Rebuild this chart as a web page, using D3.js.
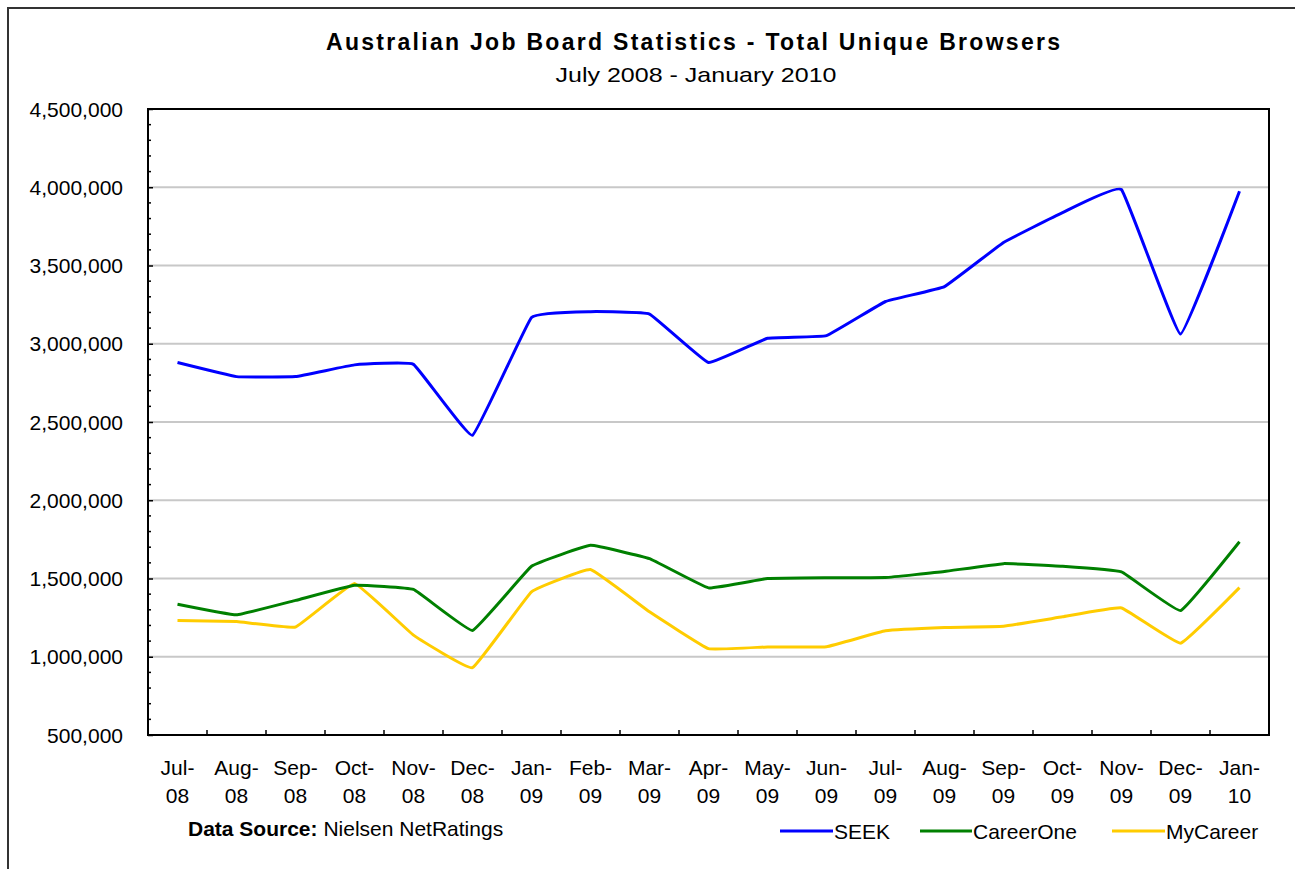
<!DOCTYPE html>
<html>
<head>
<meta charset="utf-8">
<script src="https://cdn.jsdelivr.net/npm/d3@7"></script>
<style>
  html, body { margin: 0; padding: 0; background: #fff; }
  svg { display: block; font-family: "Liberation Sans", Arial, sans-serif; }
</style>
</head>
<body>
<svg id="chart" width="1295" height="869"></svg>
<script>
const categories = ["Jul-08","Aug-08","Sep-08","Oct-08","Nov-08","Dec-08","Jan-09","Feb-09","Mar-09","Apr-09","May-09","Jun-09","Jul-09","Aug-09","Sep-09","Oct-09","Nov-09","Dec-09","Jan-10"];
const seek      = [2880000,2790000,2790000,2865000,2868000,2415000,3168000,3205000,3190000,2880000,3035000,3052000,3270000,3365000,3647000,3838000,3985000,3062000,3975000];
const careerOne = [1336000,1268000,1360000,1457000,1430000,1168000,1578000,1712000,1627000,1440000,1500000,1505000,1506000,1545000,1595000,1578000,1542000,1295000,1735000];
const myCareer  = [1232000,1225000,1190000,1468000,1138000,930000,1415000,1557000,1287000,1052000,1063000,1064000,1166000,1187000,1195000,1255000,1312000,1087000,1442000];
const seriesNames = ["SEEK","CareerOne","MyCareer"];
const yTicks = [500000,1000000,1500000,2000000,2500000,3000000,3500000,4000000,4500000];
const titleText = "Australian Job Board Statistics - Total Unique Browsers";
const subtitleText = "July 2008 - January 2010";

const colors = {SEEK: "#0000ff", CareerOne: "#008000", MyCareer: "#ffcc00"};
const series = [
  {name: "SEEK", values: seek},
  {name: "CareerOne", values: careerOne},
  {name: "MyCareer", values: myCareer}
];

const svg = d3.select("#chart");
const L = 148, R = 1269, T = 109, B = 735;

// outer frame
svg.append("rect").attr("x", 8).attr("y", 8).attr("width", 1300).attr("height", 900)
  .attr("fill", "#fff").attr("stroke", "#333").attr("stroke-width", 2);

// titles
svg.append("text").attr("x", 693).attr("y", 50).attr("text-anchor", "middle")
  .attr("font-size", 23).attr("font-weight", "bold").attr("fill", "#000")
  .attr("textLength", 734).attr("lengthAdjust", "spacing").text(titleText);
svg.append("text").attr("x", 696).attr("y", 82).attr("text-anchor", "middle")
  .attr("font-size", 21).attr("fill", "#000")
  .attr("textLength", 281).attr("lengthAdjust", "spacingAndGlyphs").text(subtitleText);

const x = d3.scaleBand().domain(categories).range([L, R]);
const y = d3.scaleLinear().domain([500000, 4500000]).range([B, T]);
const xc = c => x(c) + x.bandwidth() / 2;

// gridlines
svg.append("g").selectAll("line").data(yTicks.slice(1, -1)).join("line")
  .attr("x1", L).attr("x2", R).attr("y1", d => y(d)).attr("y2", d => y(d))
  .attr("stroke", "#c8c8c8").attr("stroke-width", 2);

// minor ticks (every 100,000), inside
const minor = d3.range(600000, 4500000, 100000).filter(v => v % 500000 !== 0);
svg.append("g").selectAll("line").data(minor).join("line")
  .attr("x1", L).attr("x2", L + 3).attr("y1", d => y(d)).attr("y2", d => y(d))
  .attr("stroke", "#000").attr("stroke-width", 1.5);

// y axis
const yAxis = d3.axisLeft(y).tickValues(yTicks).tickSize(-5).tickPadding(25)
  .tickFormat(d3.format(","));
const gy = svg.append("g").attr("transform", `translate(${L},0)`).call(yAxis);
gy.select(".domain").remove();
gy.selectAll(".tick line").attr("stroke", "#000").attr("stroke-width", 1.5);
gy.selectAll(".tick text").attr("font-size", 21).attr("fill", "#000")
  .attr("font-family", "'Liberation Sans', Arial, sans-serif").attr("dy", "0.34em");

// x ticks at category boundaries (inside)
svg.append("g").selectAll("line").data(categories.slice(1)).join("line")
  .attr("x1", d => x(d)).attr("x2", d => x(d)).attr("y1", B).attr("y2", B - 5)
  .attr("stroke", "#000").attr("stroke-width", 1.5);

// x labels
const xl = svg.append("g").selectAll("text").data(categories).join("text")
  .attr("text-anchor", "middle").attr("font-size", 21).attr("fill", "#000");
xl.append("tspan").attr("x", d => xc(d)).attr("y", 775).text(d => d.split("-")[0] + "-");
xl.append("tspan").attr("x", d => xc(d)).attr("y", 803).text(d => d.split("-")[1]);

// plot border
svg.append("rect").attr("x", L).attr("y", T).attr("width", R - L).attr("height", B - T)
  .attr("fill", "none").attr("stroke", "#000").attr("stroke-width", 2);

// lines
const line = d3.line().x((d, i) => xc(categories[i])).y(d => y(d))
  .curve(d3.curveCardinal.tension(0.75));
svg.append("g").selectAll("path").data(series.slice().reverse()).join("path")
  .attr("d", d => line(d.values)).attr("fill", "none")
  .attr("stroke", d => colors[d.name]).attr("stroke-width", 3)
  .attr("stroke-linejoin", "round");

// data source
const ds = svg.append("text").attr("x", 188).attr("y", 836).attr("font-size", 21).attr("fill", "#000");
ds.append("tspan").attr("font-weight", "bold").text("Data Source:");
ds.append("tspan").text(" Nielsen NetRatings");

// legend
const legendPos = [{x1: 780, x2: 833}, {x1: 920, x2: 972}, {x1: 1112, x2: 1165}];
const lg = svg.append("g").selectAll("g").data(seriesNames).join("g");
lg.append("line").attr("x1", (d, i) => legendPos[i].x1).attr("x2", (d, i) => legendPos[i].x2)
  .attr("y1", 831).attr("y2", 831).attr("stroke", d => colors[d]).attr("stroke-width", 3);
lg.append("text").attr("x", (d, i) => legendPos[i].x2 + 1).attr("y", 838.5)
  .attr("font-size", 21).attr("fill", "#000").text(d => d);
</script>
</body>
</html>
